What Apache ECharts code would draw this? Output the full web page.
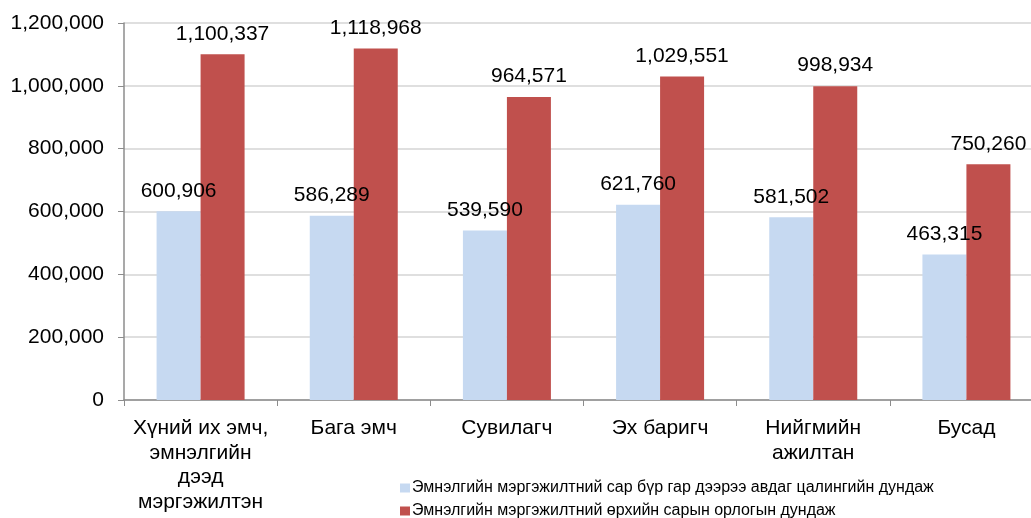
<!DOCTYPE html>
<html>
<head>
	<meta charset="utf-8"/>
	<title>Цалин</title>
	<style>
		* { margin: 0; padding: 0; }
		html, body { background: #fff; overflow: hidden; width: 1031px; height: 518px; }
	</style>
</head>
<body>
	<!-- правый край оси уходит за кадр, как в оригинале -->
	<div style="width: 1043px;height:518px;" id="myChart"></div>
	<script src="https://cdn.jsdelivr.net/npm/echarts@6/dist/echarts.min.js"></script>
	<script>
		var categories = ['Хүний их эмч,\nэмнэлгийн\nдээд\nмэргэжилтэн', 'Бага эмч', 'Сувилагч', 'Эх баригч', 'Нийгмийн\nажилтан', 'Бусад'];
		var salary = [600906, 586289, 539590, 621760, 581502, 463315];
		var income = [1100337, 1118968, 964571, 1029551, 998934, 750260];
		var seriesNames = [
			'Эмнэлгийн мэргэжилтний сар бүр гар дээрээ авдаг цалингийн дундаж',
			'Эмнэлгийн мэргэжилтний өрхийн сарын орлогын дундаж'
		];

		var fmt = function (v) {
			return String(v).replace(/\B(?=(\d{3})+(?!\d))/g, ',');
		};

		var myChart = echarts.init(document.getElementById('myChart'));

		var labelStyle = {
			show: true,
			position: 'top',
			distance: 10,
			fontFamily: 'Liberation Sans',
			fontSize: 21,
			color: '#000',
			formatter: function (p) { return fmt(p.value); }
		};

		// одна легенда на строку
		var legendBase = {
			orient: 'horizontal',
			left: 395,
			itemWidth: 10,
			itemHeight: 9,
			itemGap: 0,
			icon: 'rect',
			textStyle: { fontSize: 16, color: '#000', padding: [0, 0, 0, -3] }
		};

		var option = {
			animation: false,
			textStyle: { fontFamily: 'Liberation Sans' },
			grid: {
				left: 124,
				top: 23,
				right: 0,
				bottom: 118
			},
			legend: [
				Object.assign({}, legendBase, { top: 475, data: [seriesNames[0]] }),
				Object.assign({}, legendBase, { top: 498, data: [seriesNames[1]] })
			],
			xAxis: {
				type: 'category',
				data: categories,
				axisLine: { lineStyle: { color: '#8c8c8c', width: 1.5 } },
				axisTick: { show: true, length: 6, lineStyle: { color: '#8c8c8c' } },
				axisLabel: {
					fontSize: 21,
					lineHeight: 24.5,
					color: '#000',
					margin: 16,
					interval: 0
				}
			},
			yAxis: {
				type: 'value',
				min: 0,
				max: 1200000,
				interval: 200000,
				axisLine: { show: true, lineStyle: { color: '#8c8c8c', width: 1.5 } },
				axisTick: { show: true, length: 6, lineStyle: { color: '#8c8c8c' } },
				axisLabel: {
					fontSize: 21,
					color: '#000',
					margin: 20,
					formatter: fmt
				},
				splitLine: { lineStyle: { color: '#d4d4d4', width: 1.5 } }
			},
			series: [
				{
					name: seriesNames[0],
					type: 'bar',
					data: salary,
					barWidth: 44,
					barGap: '0%',
					itemStyle: { color: '#c6d9f1' },
					label: labelStyle
				},
				{
					name: seriesNames[1],
					type: 'bar',
					data: income,
					barWidth: 44,
					barGap: '0%',
					itemStyle: { color: '#c0504d' },
					label: labelStyle
				}
			]
		};

		myChart.setOption(option);
	</script>
</body>
</html>
